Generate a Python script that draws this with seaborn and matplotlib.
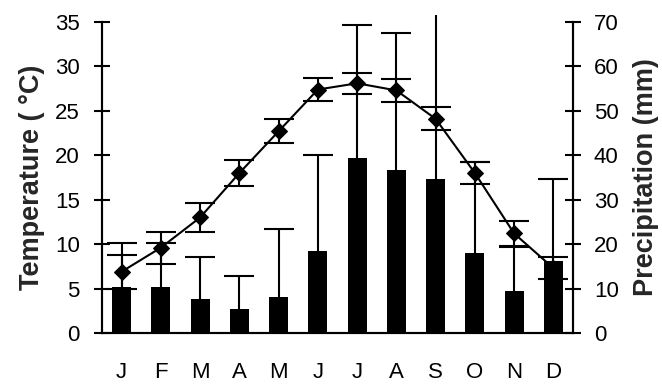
import numpy as np
import pandas as pd
import matplotlib
matplotlib.use("Agg")
import matplotlib.pyplot as plt
import matplotlib.transforms as mtransforms
import seaborn as sns

months = ['J', 'F', 'M', 'A', 'M', 'J', 'J', 'A', 'S', 'O', 'N', 'D']
temperature = [6.9, 9.6, 13.0, 18.0, 22.7, 27.4, 28.1, 27.3, 24.1, 18.0, 11.2, 7.3]
temperature_sd = [1.9, 1.8, 1.6, 1.5, 1.35, 1.3, 1.15, 1.25, 1.3, 1.25, 1.4, 1.2]
precipitation = [10.4, 10.4, 7.7, 5.4, 8.2, 18.5, 39.5, 36.8, 34.7, 18.1, 9.5, 16.3]
precipitation_sd = [9.8, 9.8, 9.3, 7.5, 15.1, 21.5, 29.8, 30.7, 37.5, 20.5, 9.9, 18.3]
temp_ticks = [0, 5, 10, 15, 20, 25, 30, 35]
precip_ticks = [0, 10, 20, 30, 40, 50, 60, 70]

sns.set_style("white")
plt.rcParams['font.family'] = ['Liberation Sans', 'DejaVu Sans']

pos = np.arange(len(months))
df = pd.DataFrame({'pos': pos, 'temp': temperature, 'tsd': temperature_sd,
                   'prec': precipitation, 'psd': precipitation_sd})

fig, ax = plt.subplots(figsize=(6.62, 3.85), dpi=100)
fig.subplots_adjust(left=0.154, right=0.8656, top=0.9429, bottom=0.135)

# Temperature line (left axis)
sns.lineplot(data=df, x='pos', y='temp', ax=ax, color='black', linewidth=1.5,
             marker='D', markersize=8, markeredgecolor='black', markerfacecolor='black')
ax.errorbar(df['pos'], df['temp'], yerr=df['tsd'], fmt='none', ecolor='black',
            elinewidth=1.5, capsize=11, capthick=1.5)

# Precipitation bars (right axis)
ax2 = ax.twinx()
sns.barplot(data=df, x='pos', y='prec', ax=ax2, color='black', width=0.48,
            errorbar=None, saturation=1, edgecolor='none')
eb = ax2.errorbar(df['pos'], df['prec'], yerr=[np.zeros(len(pos)), df['psd']], fmt='none',
                  ecolor='black', elinewidth=1.5, capsize=11, capthick=1.5)
caps = eb.lines[1]
caps[0].set_visible(False)  # plus-only error bars
clip = mtransforms.TransformedBbox(mtransforms.Bbox([[-0.1, -0.1], [1.1, 1.0225]]),
                                   ax2.transAxes)
for art in list(caps) + list(eb.lines[2]):
    art.set_clip_on(True)
    art.set_clip_box(clip)

for a in (ax, ax2):
    a.set_xlim(-0.5, len(months) - 0.5)
    for s in a.spines.values():
        s.set_color('black')
        s.set_linewidth(1.5)
    a.spines['top'].set_visible(False)

ax.set_ylim(0, 35)
ax.set_yticks(temp_ticks)
ax2.set_ylim(0, 70)
ax2.set_yticks(precip_ticks)

ax.set_xticks(pos)
ax.set_xticklabels(months)
ax.set_xticks(np.arange(-0.5, len(months), 1.0), minor=True)
ax.tick_params(axis='x', which='major', length=0, pad=21, labelsize=16, colors='black')
ax.tick_params(axis='x', which='minor', direction='out', length=6, width=1.5, color='black')
ax.tick_params(axis='y', direction='inout', length=12, width=1.5, pad=10, labelsize=16, colors='black')
ax2.tick_params(axis='y', direction='inout', length=12, width=1.5, pad=9, labelsize=16, colors='black')
ax2.tick_params(axis='x', which='both', length=0, labelbottom=False)
ax2.set_xlabel('')
ax.set_xlabel('')

ax.set_ylabel('Temperature ( °C)', fontsize=19.5, fontweight='bold', labelpad=7)
ax2.set_ylabel('Precipitation (mm)', fontsize=19.5, fontweight='bold', labelpad=10)

fig.savefig('out.png', dpi=100)
